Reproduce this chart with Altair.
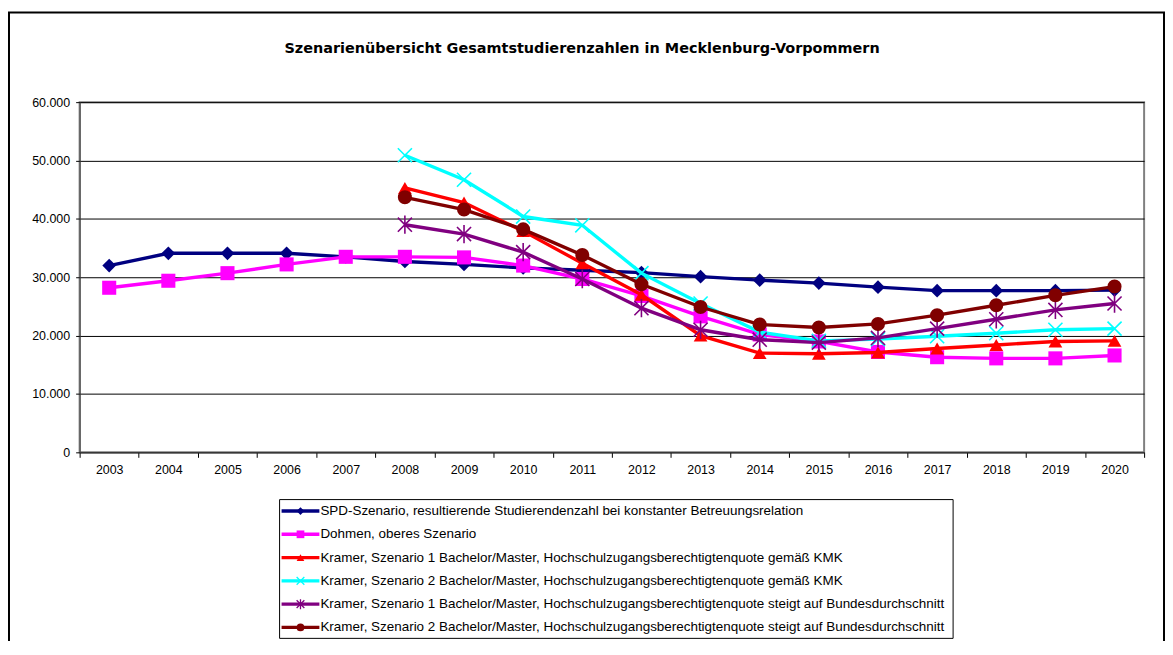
import altair as alt
import pandas as pd

# ---------------- data ----------------
years = [str(y) for y in range(2003, 2021)]

series_names = [
    "SPD-Szenario, resultierende Studierendenzahl bei konstanter Betreuungsrelation",
    "Dohmen, oberes Szenario",
    "Kramer, Szenario 1 Bachelor/Master, Hochschulzugangsberechtigtenquote gemäß KMK",
    "Kramer, Szenario 2 Bachelor/Master, Hochschulzugangsberechtigtenquote gemäß KMK",
    "Kramer, Szenario 1 Bachelor/Master, Hochschulzugangsberechtigtenquote steigt auf Bundesdurchschnitt",
    "Kramer, Szenario 2 Bachelor/Master, Hochschulzugangsberechtigtenquote steigt auf Bundesdurchschnitt",
]

spd = [32000, 34100, 34100, 34100, 33500, 32700, 32200, 31600, 31200, 30800,
       30100, 29500, 29000, 28300, 27700, 27700, 27700, 27800]
dohmen = [28200, 29400, 30700, 32200, 33500, 33500, 33400, 32000, 29700, 26800,
          23300, 20200, 19000, 17200, 16300, 16100, 16100, 16600]
kramer1_kmk = [None, None, None, None, None, 45300, 42800, 37900, 32400, 27000,
               20000, 17000, 16900, 17100, 17800, 18400, 19000, 19100]
kramer2_kmk = [None, None, None, None, None, 50900, 46700, 40400, 38900, 30700,
               25500, 20600, 19100, 19400, 19900, 20400, 21000, 21200]
kramer1_bund = [None, None, None, None, None, 39000, 37400, 34300, 29700, 24700,
                21000, 19300, 18800, 19600, 21200, 22800, 24400, 25500]
kramer2_bund = [None, None, None, None, None, 43700, 41600, 38200, 33800, 28800,
                24900, 21900, 21400, 22000, 23500, 25200, 26900, 28400]

all_values = [spd, dohmen, kramer1_kmk, kramer2_kmk, kramer1_bund, kramer2_bund]

title_text = "Szenarienübersicht Gesamtstudierenzahlen in Mecklenburg-Vorpommern"
y_ticks = [0, 10000, 20000, 30000, 40000, 50000, 60000]

# ---------------- styles ----------------
colors = ["#000080", "#FF00FF", "#FF0000", "#00FFFF", "#800080", "#800000"]
shapes = ["diamond", "square", "triangle-up",
          "M-1,-1L1,1M-1,1L1,-1",
          "M-1,-1L1,1M-1,1L1,-1M0,-1.3L0,1.3",
          "circle"]
filled = [True, True, True, False, False, True]
sizes = [190, 200, 190, 200, 200, 200]
FONT = "Liberation Sans"

# ---------------- encodings ----------------
x_enc = alt.X(
    "year:O",
    scale=alt.Scale(type="band", domain=years, paddingInner=0, paddingOuter=0),
    axis=alt.Axis(title=None, labelAngle=0, tickBand="extent", tickSize=5,
                  tickColor="#000000", domainColor="#404040", domainWidth=1,
                  labelFont=FONT, labelFontSize=12.5, labelColor="#000000",
                  labelPadding=6, grid=False),
)
y_enc = alt.Y(
    "value:Q",
    scale=alt.Scale(domain=[0, 60000], nice=False, zero=True),
    axis=alt.Axis(title=None, values=y_ticks,
                  labelExpr="replace(format(datum.value, ','), ',', '.')",
                  tickSize=4, tickColor="#000000", domainColor="#404040",
                  domainWidth=1, labelFont=FONT, labelFontSize=12.5,
                  labelColor="#000000", labelPadding=6,
                  grid=True, gridColor="#000000", gridWidth=1),
)

data_layers = []
for name, vals, col, shp, fl, sz in zip(series_names, all_values, colors, shapes, filled, sizes):
    df = pd.DataFrame({"year": years, "value": vals, "series": name}).dropna()
    base = alt.Chart(df).encode(x=x_enc, y=y_enc)
    line = base.mark_line(color=col, strokeWidth=3.4)
    pts = base.mark_point(shape=shp, size=sz, filled=fl, color=col,
                          opacity=1, strokeWidth=1.6 if not fl else 1)
    data_layers += [line, pts]

plot = alt.layer(*data_layers)

# ---------------- legend ----------------
leg_df = pd.DataFrame({
    "idx": list(range(len(series_names))),
    "series": series_names,
    "color": colors,
    "shape": shapes,
    "filled": filled,
})
leg_y = alt.Y("idx:Q", scale=alt.Scale(domain=[0, 5], range=[411, 528]), axis=None)
one = pd.DataFrame({"a": [0]})

leg_box = alt.Chart(one).mark_rect(fill="white", stroke="#000000", strokeWidth=1).encode(
    x=alt.value(201), x2=alt.value(878), y=alt.value(399.5), y2=alt.value(539))
leg_rule = alt.Chart(leg_df).mark_rule(strokeWidth=3.4).encode(
    x=alt.value(203), x2=alt.value(241), y=leg_y,
    color=alt.Color("color:N", scale=None))
leg_pts_f = alt.Chart(leg_df).transform_filter("datum.filled").mark_point(
    size=60, filled=True, opacity=1).encode(
    x=alt.value(222), y=leg_y,
    color=alt.Color("color:N", scale=None), shape=alt.Shape("shape:N", scale=None))
leg_pts_o = alt.Chart(leg_df).transform_filter("!datum.filled").mark_point(
    size=60, filled=False, opacity=1, strokeWidth=1.3).encode(
    x=alt.value(222), y=leg_y,
    color=alt.Color("color:N", scale=None), shape=alt.Shape("shape:N", scale=None))
leg_text = alt.Chart(leg_df).mark_text(
    align="left", baseline="middle", font=FONT, fontSize=13.5, color="#000000").encode(
    x=alt.value(242), y=leg_y, text="series:N")

legend = alt.layer(leg_box, leg_rule, leg_pts_f, leg_pts_o, leg_text)

# ---------------- frame & title ----------------
frame = alt.Chart(one).mark_rect(fill="transparent", stroke="#000000", strokeWidth=2).encode(
    x=alt.value(-71), x2=alt.value(1090), y=alt.value(-90), y2=alt.value(700))
title = alt.Chart(pd.DataFrame({"t": [title_text]})).mark_text(
    align="center", baseline="middle", font="DejaVu Sans", fontWeight="bold",
    fontSize=14.5, color="#000000").encode(
    x=alt.value(505), y=alt.value(-53), text="t:N")

chart = alt.layer(frame, title, plot, legend).resolve_scale(
    y="independent"
).properties(
    width=1070, height=352,
    autosize=alt.AutoSizeParams(type="none"),
    padding={"left": 72, "top": 93, "right": 21, "bottom": 188},
    background="white",
).configure_view(
    stroke="#808080", strokeWidth=2
)

chart.save("out.html", embed_options={"renderer": "svg", "actions": False})
